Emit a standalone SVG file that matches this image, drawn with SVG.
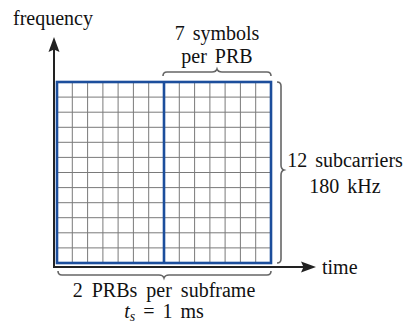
<svg xmlns="http://www.w3.org/2000/svg" width="407" height="324" viewBox="0 0 407 324">
<style>
.t{font-family:'Liberation Serif','Times New Roman',serif;font-size:20px;fill:#111}
.g{stroke:#7a7a7a;stroke-width:1;fill:none}
.b{stroke:#1c4e9c;stroke-width:2.6;fill:none}
.br{stroke:#666;stroke-width:1.6;fill:none}
.ax{stroke:#222;stroke-width:2;fill:none}
</style>
<rect width="407" height="324" fill="#fff"/>
<g id="grid">
<path class="g" d="M72.3,82V263M87.6,82V263M102.9,82V263M118.1,82V263M133.4,82V263M148.7,82V263M179.3,82V263M194.6,82V263M209.9,82V263M225.1,82V263M240.4,82V263M255.7,82V263"/>
<path class="g" d="M57,97.1H271M57,112.2H271M57,127.3H271M57,142.3H271M57,157.4H271M57,172.5H271M57,187.6H271M57,202.7H271M57,217.7H271M57,232.8H271M57,247.9H271"/>
<rect class="b" x="57" y="82" width="214" height="181"/>
<path class="b" d="M164,82V263"/>
</g>
<g id="connectors">
<path class="ax" d="M54,268V48"/>
<polygon points="54,37 48.5,52 54,49.5 59.5,52" fill="#222"/>
<path class="ax" d="M53,267H304"/>
<polygon points="316,267 301,261.5 303.5,267 301,272.5" fill="#222"/>
</g>
<g id="braces">
<path class="br" d="M163,76q0,-4 4,-4H212q4,0 5,-3q1,3 5,3H267q4,0 4,4"/>
<path class="br" d="M277,82q4,0 4,4V165q0,4 3,5q-3,1 -3,5V259q0,4 -4,4"/>
<path class="br" d="M58,271q0,4 4,4H159q4,0 5,3q1,-3 5,-3H267q4,0 4,-4"/>
</g>
<g id="labels" class="t" font-family="Liberation Serif, serif">
<text x="13" y="25">frequency</text>
<text x="217" y="40" text-anchor="middle" word-spacing="3">7 symbols</text>
<text x="217" y="63" text-anchor="middle" word-spacing="3">per PRB</text>
<text x="345" y="167" text-anchor="middle" word-spacing="3">12 subcarriers</text>
<text x="345" y="193" text-anchor="middle" word-spacing="3">180 kHz</text>
<text x="322" y="274">time</text>
<text x="164" y="297" text-anchor="middle" word-spacing="4">2 PRBs per subframe</text>
<text x="164" y="318" text-anchor="middle" word-spacing="3"><tspan font-style="italic">t</tspan><tspan font-style="italic" font-size="14" dy="3">s</tspan><tspan dy="-3"> = 1 ms</tspan></text>
</g>
</svg>
